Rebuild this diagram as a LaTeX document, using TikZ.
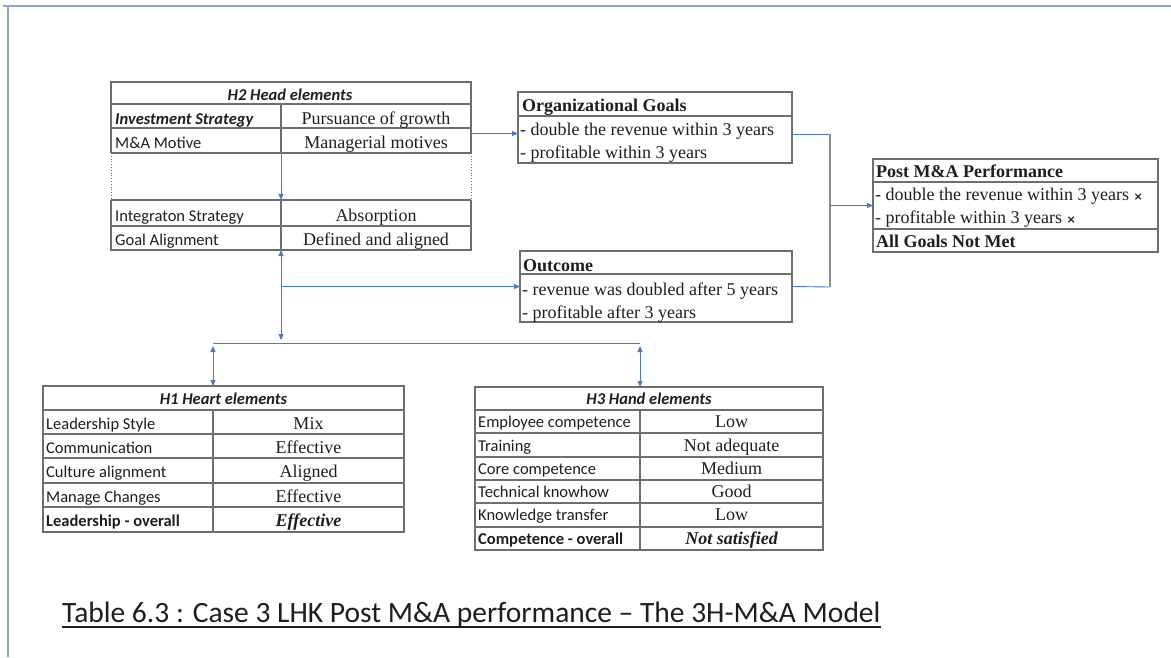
\documentclass[tikz,border=0pt]{standalone}
\usepackage{fontspec}
\setmainfont{Liberation Serif}
\newfontfamily\calibri{Carlito}
\newfontfamily\symfont{DejaVu Sans}
\usetikzlibrary{arrows.meta,calc}
\definecolor{tabgray}{HTML}{6E6E6E}
\definecolor{wireblue}{HTML}{4A78CC}
\definecolor{framegray}{HTML}{8FA3CB}
\definecolor{joingray}{HTML}{8C8C8C}
\definecolor{inkdark}{HTML}{1E1E1E}

\begin{document}
\begin{tikzpicture}[x=1pt,y=-1pt,
  tabline/.style={draw=tabgray, line width=1.1pt},
  dotline/.style={draw=tabgray, line width=0.8pt, dotted},
  boxline/.style={draw=tabgray, line width=1.1pt, inner sep=0pt, outer sep=0pt, anchor=north west},
  lcell/.style={anchor=base west, inner sep=0pt, text=inkdark, font=\calibri\fontsize{16.5}{18}\selectfont},
  lbold/.style={lcell, font=\calibri\bfseries\fontsize{16.5}{18}\selectfont},
  rcell/.style={anchor=base, inner sep=0pt, text=inkdark, font=\fontsize{18}{20}\selectfont},
  rbold/.style={rcell, font=\bfseries\itshape\fontsize{18}{20}\selectfont},
  ttl/.style={anchor=base, inner sep=0pt, text=inkdark, font=\calibri\bfseries\itshape\fontsize{16.5}{18}\selectfont},
  btxt/.style={anchor=base west, inner sep=0pt, text=inkdark, font=\fontsize{18}{20}\selectfont},
  bhead/.style={btxt, font=\bfseries\fontsize{18}{20}\selectfont},
  wire/.style={draw=wireblue, line width=0.9pt},
  arrowend/.style={-{Triangle[length=6pt,width=5pt]}},
  arrowboth/.style={{Triangle[length=6pt,width=5pt]}-{Triangle[length=6pt,width=5pt]}},
]
\useasboundingbox (0,0) rectangle (1171,657);

% page frame
\draw[framegray, line width=2.5pt] (3,6) -- (1171,6);
\draw[framegray, line width=1.5pt] (8,6) -- (8,657);

% ---------- H2 Head elements ----------
\node[boxline, draw=none, minimum width=360pt, minimum height=168pt] (h2) at (111,82) {};
\draw[tabline] (111,153) -- (111,82) -- (471,82) -- (471,153);
\draw[tabline] (111,200) -- (111,250) -- (471,250) -- (471,200);
\draw[dotline] (111,153) -- (111,200);
\draw[dotline] (471,153) -- (471,200);
\foreach \yy in {104,128,153,200,226} \draw[tabline] (111,\yy) -- (471,\yy);
\draw[tabline] (281,104) -- (281,153);
\draw[tabline] (281,200) -- (281,250);
\node[ttl] (h2t) at (290,100) {H2 Head elements};
\node[lcell, font=\calibri\bfseries\itshape\fontsize{16.5}{18}\selectfont] (h2a) at (115,124) {Investment Strategy};
\node[rcell] (h2b) at (376,124) {Pursuance of growth};
\node[lcell] (h2c) at (115,148) {M\&A Motive};
\node[rcell] (h2d) at (376,148) {Managerial motives};
\node[lcell] (h2e) at (115,221) {Integraton Strategy};
\node[rcell] (h2f) at (376,221) {Absorption};
\node[lcell] (h2g) at (115,245) {Goal Alignment};
\node[rcell] (h2h) at (376,245) {Defined and aligned};

% ---------- H1 Heart elements ----------
\node[boxline, minimum width=361pt, minimum height=146pt] (h1) at (43,386) {};
\foreach \yy in {410,434,458,483,507} \draw[tabline] (43,\yy) -- (404,\yy);
\draw[tabline] (213,410) -- (213,532);
\node[ttl] (h1t) at (223.5,404) {H1 Heart elements};
\node[lcell] (h1a) at (46,429) {Leadership Style};
\node[rcell] (h1b) at (308.5,429) {Mix};
\node[lcell] (h1c) at (46,453) {Communication};
\node[rcell] (h1d) at (308.5,453) {Effective};
\node[lcell] (h1e) at (46,477) {Culture alignment};
\node[rcell] (h1f) at (308.5,477) {Aligned};
\node[lcell] (h1g) at (46,502) {Manage Changes};
\node[rcell] (h1h) at (308.5,502) {Effective};
\node[lbold] (h1i) at (46,526) {Leadership - overall};
\node[rbold] (h1j) at (308.5,526) {Effective};

% ---------- H3 Hand elements ----------
\node[boxline, minimum width=348pt, minimum height=163pt] (h3) at (475,387) {};
\foreach \yy in {410,433,457,480,503,527} \draw[tabline] (475,\yy) -- (823,\yy);
\draw[tabline] (640,410) -- (640,550);
\node[ttl] (h3t) at (649,404) {H3 Hand elements};
\node[lcell] (h3a) at (478,427) {Employee competence};
\node[rcell] (h3b) at (731.5,427) {Low};
\node[lcell] (h3c) at (478,451) {Training};
\node[rcell] (h3d) at (731.5,451) {Not adequate};
\node[lcell] (h3e) at (478,474) {Core competence};
\node[rcell] (h3f) at (731.5,474) {Medium};
\node[lcell] (h3g) at (478,497) {Technical knowhow};
\node[rcell] (h3h) at (731.5,497) {Good};
\node[lcell] (h3i) at (478,520) {Knowledge transfer};
\node[rcell] (h3j) at (731.5,520) {Low};
\node[lbold] (h3k) at (478,544) {Competence - overall};
\node[rbold] (h3l) at (731.5,544) {Not satisfied};

% ---------- Organizational Goals ----------
\node[boxline, minimum width=274pt, minimum height=71pt] (og) at (518,92) {};
\draw[tabline] (518,116) -- (792,116);
\node[bhead] (ogt) at (522,111) {Organizational Goals};
\node[btxt] (og1) at (520,135) {- double the revenue within 3 years};
\node[btxt] (og2) at (520,158) {- profitable within 3 years};

% ---------- Outcome ----------
\node[boxline, minimum width=272pt, minimum height=71pt] (out) at (520,251) {};
\draw[tabline] (520,274) -- (792,274);
\node[bhead] (outt) at (523,271) {Outcome};
\node[btxt] (out1) at (522,295) {- revenue was doubled after 5 years};
\node[btxt] (out2) at (522,318) {- profitable after 3 years};

% ---------- Post M&A Performance ----------
\node[boxline, minimum width=285pt, minimum height=93pt] (pm) at (873,159) {};
\draw[tabline] (873,182) -- (1158,182);
\draw[tabline] (873,229) -- (1158,229);
\node[bhead] (pmt) at (876,177) {Post M\&A Performance};
\node[btxt] (pm1) at (875,200) {- double the revenue within 3 years {\symfont\bfseries\fontsize{11}{12}\selectfont ×}};
\node[btxt] (pm2) at (875,223) {- profitable within 3 years {\symfont\bfseries\fontsize{11}{12}\selectfont ×}};
\node[bhead] (pm3) at (876,247) {All Goals Not Met};

% ---------- connectors ----------
\coordinate (gapA) at (281,153);
\coordinate (gapB) at (281,200);
\draw[wire, arrowend] (gapA) -- (gapB);

\coordinate (ogIn) at ([yshift=-6pt]og.west);
\draw[wire, arrowend] (h2.east |- ogIn) -- (ogIn);

\coordinate (hub) at (281,343);
\draw[wire, arrowboth] (h2.south -| gapA) -- ([yshift=3pt]hub);
\draw[wire, arrowend] (out.west -| gapA) -- (out.west);

\coordinate (barL) at (213,343);
\coordinate (barR) at (640,343);
\draw[wire] (barL) -- (barR);
\draw[wire, arrowboth] ([yshift=-3pt]barL) -- (h1.north -| barL);
\draw[wire, arrowboth] ([yshift=-3pt]barR) -- (h3.north -| barR);

\coordinate (ogOut) at ([yshift=-6.5pt]og.east);
\coordinate (joinTop) at (830,134);
\coordinate (joinBot) at (830,287);
\draw[wire] (ogOut) -- (joinTop);
\draw[wire] (out.east) -- (joinBot);
\draw[joingray, line width=1.2pt] (joinTop) -- (joinBot);
\draw[wire, arrowend] (pm.west -| joinTop) -- (pm.west);

% ---------- caption ----------
\node[anchor=base west, inner sep=0pt, text=inkdark, font=\calibri\fontsize{29.5}{32}\selectfont] (cap) at (62,622)
  {Table 6.3 : Case 3 LHK Post M\&A performance – The 3H-M\&A Model};
\draw[inkdark, line width=1.8pt] ([yshift=-5pt]cap.base west) -- ([yshift=-5pt]cap.base east);
\end{tikzpicture}
\end{document}
